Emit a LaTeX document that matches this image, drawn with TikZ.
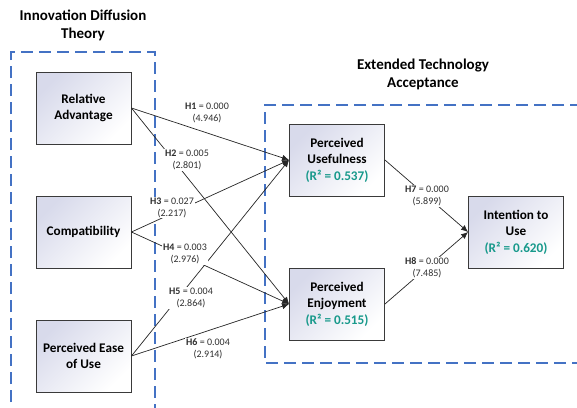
\documentclass[tikz,border=0pt]{standalone}
\usepackage{fontspec}
\setmainfont{Carlito}
\usetikzlibrary{arrows.meta}
\definecolor{dashblue}{HTML}{4472C4}
\definecolor{rteal}{HTML}{17998B}
\definecolor{boxtop}{HTML}{D8DAEB}
\definecolor{boxline}{HTML}{3A3A3A}
\definecolor{labtxt}{HTML}{303030}
\tikzset{
  cbox/.style={draw=boxline, line width=0.9pt, minimum width=95pt, minimum height=72pt,
    top color=boxtop, bottom color=white, shading angle=45,
    align=center, font=\fontsize{13.2}{16.5}\selectfont\bfseries, inner sep=2pt},
  grp/.style={draw=dashblue, line width=2pt, dash pattern=on 12pt off 6pt},
  ttl/.style={align=center, font=\fontsize{15}{18}\selectfont\bfseries},
  link/.style={draw=black!85, line width=0.7pt, -{Latex[length=7pt,width=6pt]}},
  hlab/.style={fill=white, inner sep=1pt, align=center, text=labtxt, font=\fontsize{10}{12}\selectfont},
}
\newcommand{\rsq}[1]{\textcolor{rteal}{(R² = #1)}}
\begin{document}
\begin{tikzpicture}[x=1pt,y=-1pt]
\useasboundingbox (0,0) rectangle (577,407);
\clip (0,0) rectangle (577,407);
\fill[white] (0,0) rectangle (577,407);
% group boxes
\draw[grp] (11,420) -- (11,52) -- (155,52) -- (155,420);
\draw[grp] (600,105) -- (265,105) -- (265,363) -- (600,363);
\node[ttl] (t1) at (83,25.5) {Innovation Diffusion\\Theory};
\node[ttl] (t2) at (423,74) {Extended Technology\\Acceptance};
% construct boxes
\node[cbox] (ra) at (83.5,108) {Relative\\Advantage};
\node[cbox] (co) at (83.5,232) {Compatibility};
\node[cbox] (pe) at (83.5,356) {Perceived Ease\\of Use};
\node[cbox] (pu) at (337,160) {Perceived\\Usefulness\\\rsq{0.537}};
\node[cbox] (pj) at (337,304) {Perceived\\Enjoyment\\\rsq{0.515}};
\node[cbox] (iu) at (516,232) {Intention to\\Use\\\rsq{0.620}};
% links
\draw[link] (ra.east) -- (pu.west);
\draw[link] (ra.east) -- (pj.west);
\draw[link] (co.east) -- (pu.west);
\draw[link] (co.east) -- (pj.west);
\draw[link] (pe.east) -- (pu.west);
\draw[link] (pe.east) -- (pj.west);
\draw[link] (pu.east) -- (iu.west);
\draw[link] (pj.east) -- (iu.west);
% labels
\node[hlab] (l1) at (207,112.5) {\textbf{H1} = 0.000\\(4.946)};
\node[hlab] (l2) at (187,160) {\textbf{H2} = 0.005\\(2.801)};
\node[hlab] (l3) at (172,207.5) {\textbf{H3} = 0.027\\(2.217)};
\node[hlab] (l4) at (185,254) {\textbf{H4} = 0.003\\(2.976)};
\node[hlab] (l5) at (191,298) {\textbf{H5} = 0.004\\(2.864)};
\node[hlab] (l6) at (208,349) {\textbf{H6} = 0.004\\(2.914)};
\node[hlab] (l7) at (427,196) {\textbf{H7} = 0.000\\(5.899)};
\node[hlab] (l8) at (427,268) {\textbf{H8} = 0.000\\(7.485)};
\end{tikzpicture}
\end{document}
